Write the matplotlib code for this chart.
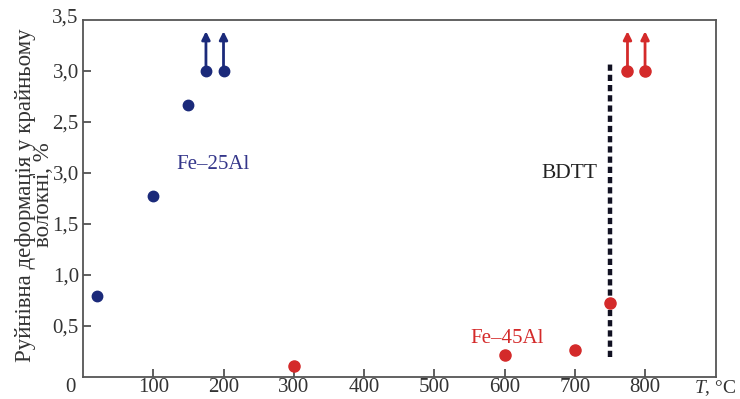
import matplotlib
matplotlib.use("Agg")
import matplotlib.pyplot as plt

# Fe-25Al (blue)
t25 = [20, 100, 150, 175, 200]
e25 = [0.79, 1.77, 2.67, 3.0, 3.0]
# Fe-45Al (red)
t45 = [300, 600, 700, 750, 775, 800]
e45 = [0.11, 0.22, 0.26, 0.73, 3.0, 3.0]
# points that did not break (arrows up)
arr25 = [175, 200]
arr45 = [775, 800]
bdtt_x = 750
bdtt_y = [0.2, 3.07]

xticks = [100, 200, 300, 400, 500, 600, 700, 800]
yticks = [0.5, 1.0, 1.5, 2.0, 2.5, 3.0]
ylabels = ["0,5", "1,0", "1,5", "3,0", "2,5", "3,0"]   # as printed in the original

blue = "#1b2a7a"
red = "#d42a2a"
txt = "#333333"

plt.rcParams['font.family'] = ['Liberation Serif', 'DejaVu Serif']
plt.rcParams['mathtext.fontset'] = 'custom'
plt.rcParams['mathtext.it'] = 'Liberation Serif:italic'
plt.rcParams['mathtext.rm'] = 'Liberation Serif'

fig = plt.figure(figsize=(7.4, 3.99), dpi=100)
ax = fig.add_axes([83/740, 1-377/399, (716-83)/740, (377-20)/399])
ax.set_xlim(0, 901)
ax.set_ylim(0, 3.5)

for s in ax.spines.values():
    s.set_color("#555555")
    s.set_linewidth(1.3)

ax.set_xticks(xticks)
ax.set_xticklabels([str(v) for v in xticks])
ax.set_yticks(yticks)
ax.set_yticklabels(ylabels)
ax.tick_params(direction="in", length=6, width=1.2, color="#444444",
               labelsize=15, labelcolor=txt, pad=3)
ax.tick_params(axis="x", pad=1)

# corner labels
ax.text(-0.012, -0.004, "0", transform=ax.transAxes, ha="right", va="top",
        fontsize=15, color=txt)
ax.text(-0.008, 1.005, "3,5", transform=ax.transAxes, ha="right", va="center",
        fontsize=15, color=txt)
ax.text(0.966, -0.004, "$T$, °C", transform=ax.transAxes, ha="left", va="top",
        fontsize=14, color=txt)

ax.set_ylabel("Руйнівна деформація у крайньому\nволокні, %", fontsize=16.5,
              color=txt, linespacing=0.78)
ax.yaxis.set_label_coords(-0.046, 0.51)

# BDTT line
ax.plot([bdtt_x, bdtt_x], bdtt_y, color="#111122", lw=3.2,
        linestyle=(0, (1.4, 0.9)), zorder=2)
ax.text(732, 2.0, "BDTT", ha="right", va="center", fontsize=15.5, color="#222222")

# arrows
for x in arr25:
    ax.annotate("", xy=(x, 3.39), xytext=(x, 3.0),
                arrowprops=dict(arrowstyle="-|>", color=blue, lw=2,
                                mutation_scale=12, shrinkA=0, shrinkB=0))
for x in arr45:
    ax.annotate("", xy=(x, 3.39), xytext=(x, 3.0),
                arrowprops=dict(arrowstyle="-|>", color=red, lw=2,
                                mutation_scale=12, shrinkA=0, shrinkB=0))

ax.plot(t25, e25, "o", color=blue, markersize=7.5, zorder=3, clip_on=False)
ax.plot(t45, e45, "o", color=red, markersize=8, zorder=3, clip_on=False)

ax.text(133, 2.08, "Fe–25Al", ha="left", va="center", fontsize=15, color="#34368a")
ax.text(551, 0.38, "Fe–45Al", ha="left", va="center", fontsize=15, color=red)

fig.savefig("out.png", dpi=100)
